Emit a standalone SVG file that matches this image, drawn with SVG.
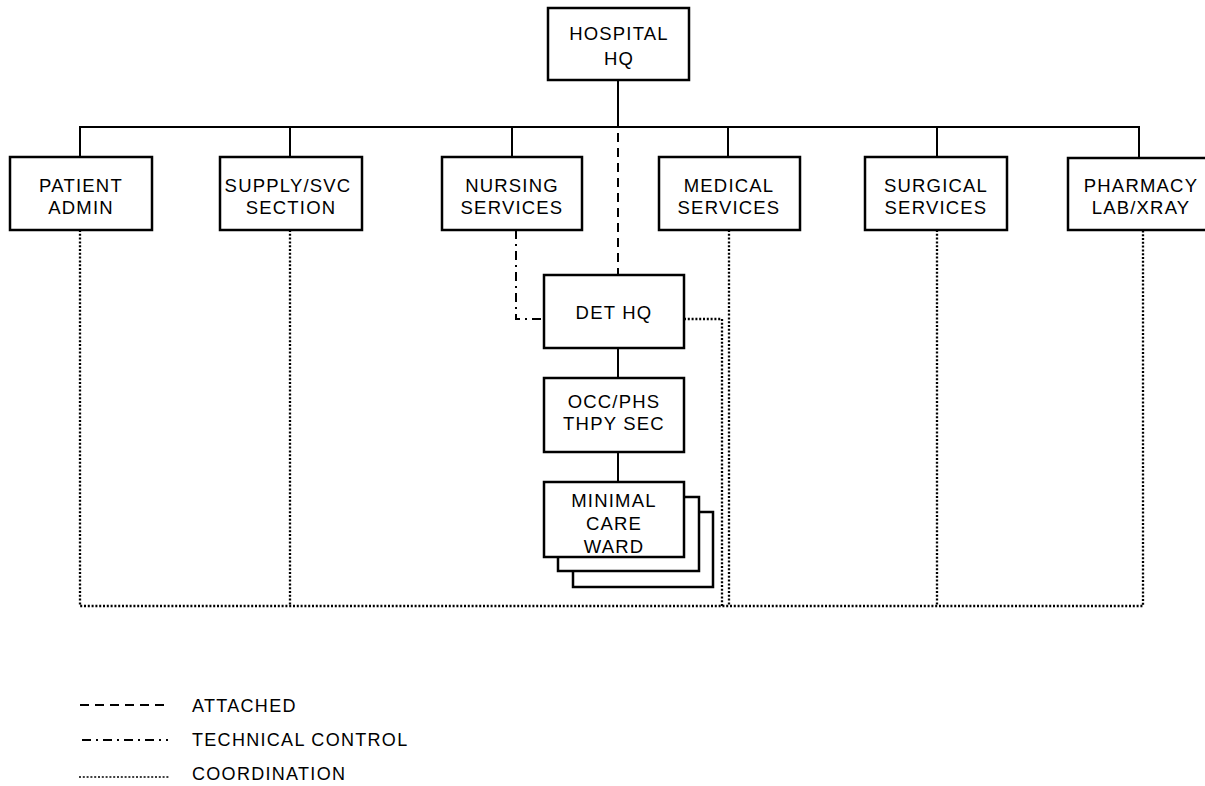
<svg xmlns="http://www.w3.org/2000/svg" width="1205" height="786" viewBox="0 0 1205 786">
  <style>
    .box { fill: #fff; stroke: #000; stroke-width: 2.5; }
    .lbl { font-family: "Liberation Sans", Arial, sans-serif; font-size: 18.5px; letter-spacing: 1.2px; fill: #000; text-anchor: middle; }
    .leg { font-family: "Liberation Sans", Arial, sans-serif; font-size: 18px; letter-spacing: 1.3px; fill: #000; }
    .solid { fill: none; stroke: #000; stroke-width: 2; }
    .attached { fill: none; stroke: #000; stroke-width: 2; stroke-dasharray: 9 6; }
    .techctl { fill: none; stroke: #000; stroke-width: 2; stroke-dasharray: 9 5 2 5; }
    .coord { fill: none; stroke: #000; stroke-width: 2.3; stroke-dasharray: 2 1.8; }
  </style>

  <!-- connectors -->
  <g id="connectors">
    <!-- command lines -->
    <path class="solid" d="M618 80 V127"/>
    <path class="solid" d="M80 157 V127 H1139 V158"/>
    <path class="solid" d="M290 127 V157 M512 127 V157 M728 127 V157 M937 127 V157"/>
    <path class="solid" d="M618 348 V378 M618 452 V482"/>
    <!-- attached -->
    <path class="attached" d="M618 133 V275"/>
    <!-- technical control -->
    <path class="techctl" d="M516 230 V319 H544"/>
    <!-- coordination -->
    <path class="coord" d="M80 230 V606 H1143 V230"/>
    <path class="coord" d="M290 230 V606"/>
    <path class="coord" d="M729 230 V606"/>
    <path class="coord" d="M937 230 V606"/>
    <path class="coord" d="M684 319 H722 V606"/>
  </g>

  <g id="hospital-hq">
    <rect class="box" x="548" y="8" width="141" height="72"/>
    <text class="lbl" x="619" y="40">HOSPITAL</text>
    <text class="lbl" x="619" y="65">HQ</text>
  </g>

  <g id="patient-admin">
    <rect class="box" x="10" y="157" width="142" height="73"/>
    <text class="lbl" x="81" y="192">PATIENT</text>
    <text class="lbl" x="81" y="214">ADMIN</text>
  </g>

  <g id="supply-svc">
    <rect class="box" x="220" y="157" width="142" height="73"/>
    <text class="lbl" x="288" y="192">SUPPLY/SVC</text>
    <text class="lbl" x="291" y="214">SECTION</text>
  </g>

  <g id="nursing-services">
    <rect class="box" x="442" y="157" width="140" height="73"/>
    <text class="lbl" x="512" y="192">NURSING</text>
    <text class="lbl" x="512" y="214">SERVICES</text>
  </g>

  <g id="medical-services">
    <rect class="box" x="659" y="157" width="141" height="73"/>
    <text class="lbl" x="729" y="192">MEDICAL</text>
    <text class="lbl" x="729" y="214">SERVICES</text>
  </g>

  <g id="surgical-services">
    <rect class="box" x="865" y="157" width="142" height="73"/>
    <text class="lbl" x="936" y="192">SURGICAL</text>
    <text class="lbl" x="936" y="214">SERVICES</text>
  </g>

  <g id="pharmacy-lab-xray">
    <rect class="box" x="1068" y="158" width="145" height="72"/>
    <text class="lbl" x="1141" y="192">PHARMACY</text>
    <text class="lbl" x="1141" y="214">LAB/XRAY</text>
  </g>

  <g id="det-hq">
    <rect class="box" x="544" y="275" width="140" height="73"/>
    <text class="lbl" x="614" y="319">DET HQ</text>
  </g>

  <g id="occ-phs-thpy">
    <rect class="box" x="544" y="378" width="140" height="74"/>
    <text class="lbl" x="614" y="408">OCC/PHS</text>
    <text class="lbl" x="614" y="430">THPY SEC</text>
  </g>

  <g id="minimal-care-ward">
    <rect class="box" x="573" y="512" width="140" height="75"/>
    <rect class="box" x="558" y="497" width="141" height="74"/>
    <rect class="box" x="544" y="482" width="140" height="75"/>
    <text class="lbl" x="614" y="507">MINIMAL</text>
    <text class="lbl" x="614" y="530">CARE</text>
    <text class="lbl" x="614" y="553">WARD</text>
  </g>

  <g id="legend">
    <path class="attached" d="M80 705 H168"/>
    <text class="leg" x="192" y="712">ATTACHED</text>
    <path class="techctl" d="M82 740 H168"/>
    <text class="leg" x="192" y="746">TECHNICAL CONTROL</text>
    <path class="coord" d="M79 777 H169" style="stroke-width:1.5"/>
    <text class="leg" x="192" y="780">COORDINATION</text>
  </g>
</svg>
